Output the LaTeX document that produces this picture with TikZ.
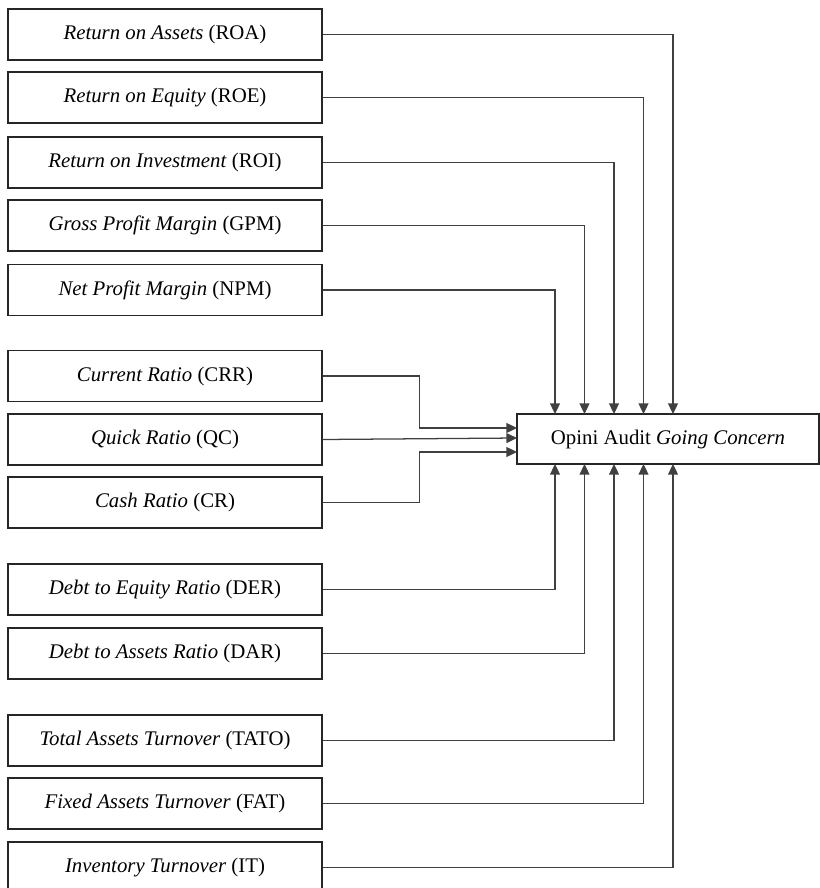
\documentclass[tikz,border=0pt]{standalone}
\usepackage{fontspec}
\setmainfont{Liberation Serif}
\usepackage{tikz}
\usetikzlibrary{arrows.meta, positioning, calc}
\definecolor{lnline}{HTML}{404040}

\begin{document}
\begin{tikzpicture}[
  ratio/.style={
    rectangle,
    draw=black!85,
    line width=0.9pt,
    minimum width=7.85cm,
    minimum height=1.275cm,
    inner sep=0pt,
    font=\fontsize{14.8}{17}\selectfont
  },
  target/.style={
    rectangle,
    draw=black!85,
    line width=0.9pt,
    minimum width=7.55cm,
    minimum height=1.25cm,
    inner sep=0pt,
    font=\fontsize{14.8}{17}\selectfont
  },
  link/.style={
    draw=lnline,
    line width=0.9pt,
    -{Triangle[length=7.5pt,width=7pt]}
  }
]
  \useasboundingbox (0,0) rectangle (20.5,-22.2);

  % profitabilitas
  \node[ratio] (roa) at (4.125,-0.8625) {\textit{Return on Assets} (ROA)};
  \node[ratio] (roe) at (4.125,-2.4375) {\textit{Return on Equity} (ROE)};
  \node[ratio] (roi) at (4.125,-4.0625) {\textit{Return on Investment} (ROI)};
  \node[ratio] (gpm) at (4.125,-5.6375) {\textit{Gross Profit Margin} (GPM)};
  \node[ratio] (npm) at (4.125,-7.25) {\textit{Net Profit Margin} (NPM)};

  % likuiditas
  \node[ratio] (crr) at (4.125,-9.4) {\textit{Current Ratio} (CRR)};
  \node[ratio] (qc) at (4.125,-10.9875) {\textit{Quick Ratio} (QC)};
  \node[ratio] (cr) at (4.125,-12.5625) {\textit{Cash Ratio} (CR)};

  % solvabilitas
  \node[ratio] (der) at (4.125,-14.7375) {\textit{Debt to Equity Ratio} (DER)};
  \node[ratio] (dar) at (4.125,-16.3375) {\textit{Debt to Assets Ratio} (DAR)};

  % aktivitas
  \node[ratio] (tato) at (4.125,-18.5125) {\textit{Total Assets Turnover} (TATO)};
  \node[ratio] (fat) at (4.125,-20.0875) {\textit{Fixed Assets Turnover} (FAT)};
  \node[ratio] (it) at (4.125,-21.6875) {\textit{Inventory Turnover} (IT)};

  \node[target] (opini) at (16.7,-10.975) {Opini Audit \textit{Going Concern}};

  % titik masuk
  \coordinate (top1) at (13.875,-10.35);
  \coordinate (top2) at (14.6125,-10.35);
  \coordinate (top3) at (15.35,-10.35);
  \coordinate (top4) at (16.0875,-10.35);
  \coordinate (top5) at (16.825,-10.35);
  \coordinate (bot1) at (13.875,-11.6);
  \coordinate (bot2) at (14.6125,-11.6);
  \coordinate (bot3) at (15.35,-11.6);
  \coordinate (bot4) at (16.0875,-11.6);
  \coordinate (bot5) at (16.825,-11.6);
  \coordinate (in1) at (12.925,-10.7);
  \coordinate (in2) at (12.925,-10.95);
  \coordinate (in3) at (12.925,-11.3);

  \draw[link] (roa.east) -| (top5);
  \draw[link] (roe.east) -| (top4);
  \draw[link] (roi.east) -| (top3);
  \draw[link] (gpm.east) -| (top2);
  \draw[link] (npm.east) -| (top1);

  \draw[link] (crr.east) -- ++(2.425,0) |- (in1);
  \draw[link] (qc.east) -- (in2);
  \draw[link] (cr.east) -- ++(2.425,0) |- (in3);

  \draw[link] (der.east) -| (bot1);
  \draw[link] (dar.east) -| (bot2);
  \draw[link] (tato.east) -| (bot3);
  \draw[link] (fat.east) -| (bot4);
  \draw[link] (it.east) -| (bot5);
\end{tikzpicture}
\end{document}
